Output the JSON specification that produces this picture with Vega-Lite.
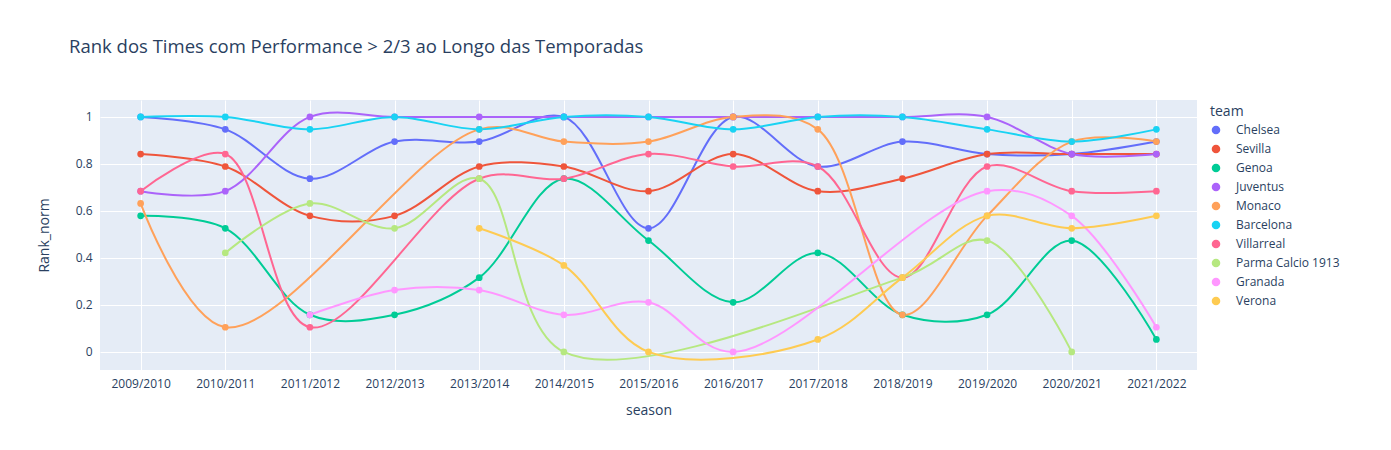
{
"$schema":"https://vega.github.io/schema/vega-lite/v6.json",
"width":1097,"height":270,
"autosize":{"type":"none"},
"padding":{"left":100,"top":100,"right":194,"bottom":80},
"background":"white",
"config":{"view":{"fill":"#E5ECF6","stroke":null},"font":"Open Sans",
"axis":{"labelColor":"#2a3f5f","titleColor":"#2a3f5f","labelFontSize":12,"titleFontSize":14,"titleFontWeight":"normal","gridColor":"white","gridWidth":1,"domain":false,"ticks":false,"labelPadding":8}},
"title":{"text":"Rank dos Times com Performance > 2/3 ao Longo das Temporadas","anchor":"start","frame":"group","dx":-31,"offset":44,"fontSize":18.5,"fontWeight":"normal","color":"#2a3f5f","font":"Open Sans"},
"data":{"values":[
{"team":"Chelsea","season":"2009/2010","Rank_norm":1},{"team":"Chelsea","season":"2010/2011","Rank_norm":0.947},{"team":"Chelsea","season":"2011/2012","Rank_norm":0.737},{"team":"Chelsea","season":"2012/2013","Rank_norm":0.895},{"team":"Chelsea","season":"2013/2014","Rank_norm":0.895},{"team":"Chelsea","season":"2014/2015","Rank_norm":1},{"team":"Chelsea","season":"2015/2016","Rank_norm":0.526},{"team":"Chelsea","season":"2016/2017","Rank_norm":1},{"team":"Chelsea","season":"2017/2018","Rank_norm":0.789},{"team":"Chelsea","season":"2018/2019","Rank_norm":0.895},{"team":"Chelsea","season":"2019/2020","Rank_norm":0.842},{"team":"Chelsea","season":"2020/2021","Rank_norm":0.842},{"team":"Chelsea","season":"2021/2022","Rank_norm":0.895},
{"team":"Sevilla","season":"2009/2010","Rank_norm":0.842},{"team":"Sevilla","season":"2010/2011","Rank_norm":0.789},{"team":"Sevilla","season":"2011/2012","Rank_norm":0.579},{"team":"Sevilla","season":"2012/2013","Rank_norm":0.579},{"team":"Sevilla","season":"2013/2014","Rank_norm":0.789},{"team":"Sevilla","season":"2014/2015","Rank_norm":0.789},{"team":"Sevilla","season":"2015/2016","Rank_norm":0.684},{"team":"Sevilla","season":"2016/2017","Rank_norm":0.842},{"team":"Sevilla","season":"2017/2018","Rank_norm":0.684},{"team":"Sevilla","season":"2018/2019","Rank_norm":0.737},{"team":"Sevilla","season":"2019/2020","Rank_norm":0.842},{"team":"Sevilla","season":"2020/2021","Rank_norm":0.842},{"team":"Sevilla","season":"2021/2022","Rank_norm":0.842},
{"team":"Genoa","season":"2009/2010","Rank_norm":0.579},{"team":"Genoa","season":"2010/2011","Rank_norm":0.526},{"team":"Genoa","season":"2011/2012","Rank_norm":0.158},{"team":"Genoa","season":"2012/2013","Rank_norm":0.158},{"team":"Genoa","season":"2013/2014","Rank_norm":0.316},{"team":"Genoa","season":"2014/2015","Rank_norm":0.737},{"team":"Genoa","season":"2015/2016","Rank_norm":0.474},{"team":"Genoa","season":"2016/2017","Rank_norm":0.211},{"team":"Genoa","season":"2017/2018","Rank_norm":0.421},{"team":"Genoa","season":"2018/2019","Rank_norm":0.158},{"team":"Genoa","season":"2019/2020","Rank_norm":0.158},{"team":"Genoa","season":"2020/2021","Rank_norm":0.474},{"team":"Genoa","season":"2021/2022","Rank_norm":0.053},
{"team":"Juventus","season":"2009/2010","Rank_norm":0.684},{"team":"Juventus","season":"2010/2011","Rank_norm":0.684},{"team":"Juventus","season":"2011/2012","Rank_norm":1},{"team":"Juventus","season":"2012/2013","Rank_norm":1},{"team":"Juventus","season":"2013/2014","Rank_norm":1},{"team":"Juventus","season":"2014/2015","Rank_norm":1},{"team":"Juventus","season":"2015/2016","Rank_norm":1},{"team":"Juventus","season":"2016/2017","Rank_norm":1},{"team":"Juventus","season":"2017/2018","Rank_norm":1},{"team":"Juventus","season":"2018/2019","Rank_norm":1},{"team":"Juventus","season":"2019/2020","Rank_norm":1},{"team":"Juventus","season":"2020/2021","Rank_norm":0.842},{"team":"Juventus","season":"2021/2022","Rank_norm":0.842},
{"team":"Monaco","season":"2009/2010","Rank_norm":0.632},{"team":"Monaco","season":"2010/2011","Rank_norm":0.105},{"team":"Monaco","season":"2013/2014","Rank_norm":0.947},{"team":"Monaco","season":"2014/2015","Rank_norm":0.895},{"team":"Monaco","season":"2015/2016","Rank_norm":0.895},{"team":"Monaco","season":"2016/2017","Rank_norm":1},{"team":"Monaco","season":"2017/2018","Rank_norm":0.947},{"team":"Monaco","season":"2018/2019","Rank_norm":0.158},{"team":"Monaco","season":"2019/2020","Rank_norm":0.579},{"team":"Monaco","season":"2020/2021","Rank_norm":0.895},{"team":"Monaco","season":"2021/2022","Rank_norm":0.895},
{"team":"Barcelona","season":"2009/2010","Rank_norm":1},{"team":"Barcelona","season":"2010/2011","Rank_norm":1},{"team":"Barcelona","season":"2011/2012","Rank_norm":0.947},{"team":"Barcelona","season":"2012/2013","Rank_norm":1},{"team":"Barcelona","season":"2013/2014","Rank_norm":0.947},{"team":"Barcelona","season":"2014/2015","Rank_norm":1},{"team":"Barcelona","season":"2015/2016","Rank_norm":1},{"team":"Barcelona","season":"2016/2017","Rank_norm":0.947},{"team":"Barcelona","season":"2017/2018","Rank_norm":1},{"team":"Barcelona","season":"2018/2019","Rank_norm":1},{"team":"Barcelona","season":"2019/2020","Rank_norm":0.947},{"team":"Barcelona","season":"2020/2021","Rank_norm":0.895},{"team":"Barcelona","season":"2021/2022","Rank_norm":0.947},
{"team":"Villarreal","season":"2009/2010","Rank_norm":0.684},{"team":"Villarreal","season":"2010/2011","Rank_norm":0.842},{"team":"Villarreal","season":"2011/2012","Rank_norm":0.105},{"team":"Villarreal","season":"2013/2014","Rank_norm":0.737},{"team":"Villarreal","season":"2014/2015","Rank_norm":0.737},{"team":"Villarreal","season":"2015/2016","Rank_norm":0.842},{"team":"Villarreal","season":"2016/2017","Rank_norm":0.789},{"team":"Villarreal","season":"2017/2018","Rank_norm":0.789},{"team":"Villarreal","season":"2018/2019","Rank_norm":0.316},{"team":"Villarreal","season":"2019/2020","Rank_norm":0.789},{"team":"Villarreal","season":"2020/2021","Rank_norm":0.684},{"team":"Villarreal","season":"2021/2022","Rank_norm":0.684},
{"team":"Parma Calcio 1913","season":"2010/2011","Rank_norm":0.421},{"team":"Parma Calcio 1913","season":"2011/2012","Rank_norm":0.632},{"team":"Parma Calcio 1913","season":"2012/2013","Rank_norm":0.526},{"team":"Parma Calcio 1913","season":"2013/2014","Rank_norm":0.737},{"team":"Parma Calcio 1913","season":"2014/2015","Rank_norm":0},{"team":"Parma Calcio 1913","season":"2018/2019","Rank_norm":0.316},{"team":"Parma Calcio 1913","season":"2019/2020","Rank_norm":0.474},{"team":"Parma Calcio 1913","season":"2020/2021","Rank_norm":0},
{"team":"Granada","season":"2011/2012","Rank_norm":0.158},{"team":"Granada","season":"2012/2013","Rank_norm":0.263},{"team":"Granada","season":"2013/2014","Rank_norm":0.263},{"team":"Granada","season":"2014/2015","Rank_norm":0.158},{"team":"Granada","season":"2015/2016","Rank_norm":0.211},{"team":"Granada","season":"2016/2017","Rank_norm":0},{"team":"Granada","season":"2019/2020","Rank_norm":0.684},{"team":"Granada","season":"2020/2021","Rank_norm":0.579},{"team":"Granada","season":"2021/2022","Rank_norm":0.105},
{"team":"Verona","season":"2013/2014","Rank_norm":0.526},{"team":"Verona","season":"2014/2015","Rank_norm":0.368},{"team":"Verona","season":"2015/2016","Rank_norm":0},{"team":"Verona","season":"2017/2018","Rank_norm":0.053},{"team":"Verona","season":"2018/2019","Rank_norm":0.316},{"team":"Verona","season":"2019/2020","Rank_norm":0.579},{"team":"Verona","season":"2020/2021","Rank_norm":0.526},{"team":"Verona","season":"2021/2022","Rank_norm":0.579}
]},
"encoding":{
"x":{"field":"season","type":"ordinal","sort":"ascending","scale":{"type":"point","padding":0.48},"axis":{"labelAngle":0,"grid":true,"title":"season","titlePadding":14}},
"y":{"field":"Rank_norm","type":"quantitative","scale":{"domain":[-0.077,1.072],"nice":false,"zero":false},"axis":{"values":[0,0.2,0.4,0.6,0.8,1],"format":"~g","title":"Rank_norm","titlePadding":24}}
},
"layer":[
{"mark":{"type":"rule","color":"white","strokeWidth":2},"encoding":{"y":{"datum":0}}},
{"mark":{"type":"line","interpolate":"catmull-rom","strokeWidth":2},"encoding":{"color":{"field":"team","type":"nominal","scale":{"domain":["Chelsea","Sevilla","Genoa","Juventus","Monaco","Barcelona","Villarreal","Parma Calcio 1913","Granada","Verona"],"range":["#636efa","#EF553B","#00cc96","#ab63fa","#FFA15A","#19d3f3","#FF6692","#B6E880","#FF97FF","#FECB52"]},
"legend":{"orient":"none","legendX":1110,"legendY":5,"title":"team","titleFontSize":14,"titleFontWeight":"normal","titleColor":"#2a3f5f","labelColor":"#2a3f5f","labelFontSize":12,"symbolType":"circle","symbolSize":50,"rowPadding":5,"labelOffset":14}}}},
{"mark":{"type":"point","filled":true,"size":45,"opacity":1},"encoding":{"color":{"field":"team","type":"nominal"}}}
]
}
